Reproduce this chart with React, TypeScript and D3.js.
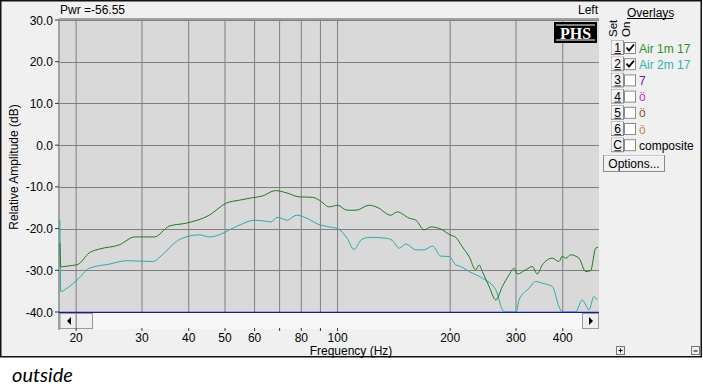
import React from "react";
import * as d3 from "d3";

// series: Air 1m 17 (green)
const freqA = [18.1, 18.2, 18.9, 20.2, 21.7, 23.1, 26.1, 28.7, 32.4, 35.5, 39.4, 45.4, 50.4, 54.6, 59.2, 62.9, 68.2, 72.8, 79.0, 85.6, 89.4, 95.0, 100, 106, 112, 121.5, 127.6, 138.8, 144.3, 155.4, 162, 170.4, 177.6, 190.7, 199.6, 207, 215.7, 224.7, 234.2, 239, 243.9, 254.2, 264.9, 275.8, 287.4, 296.4, 302.4, 318.5, 331.7, 342, 352.7, 375.2, 390.8, 398.9, 407.3, 420, 442, 460.6, 474.9, 489.8, 497];
const dbA = [-23.5, -29.2, -29.0, -28.6, -25.8, -24.9, -23.9, -22.0, -22.0, -19.4, -18.7, -16.8, -13.9, -13.2, -12.6, -12.2, -10.9, -11.4, -12.4, -12.5, -13.2, -14.8, -14.4, -15.6, -15.6, -14.4, -14.9, -16.8, -16.0, -17.5, -18.0, -20.3, -19.6, -20.3, -21.5, -22.1, -24.4, -26.7, -29.9, -28.7, -30.3, -33.9, -37.1, -33.9, -31.1, -29.5, -30.9, -29.9, -29.1, -30.9, -28.7, -27.1, -27.9, -26.6, -27.1, -26.3, -27.1, -30.3, -30.1, -24.7, -24.5];

// series: Air 2m 17 (teal)
const freqB = [18.1, 18.2, 18.9, 20.2, 21.7, 24.6, 27.3, 32.0, 34.0, 36.6, 38.5, 42.7, 45.4, 48.3, 51.4, 54.6, 59.9, 63.7, 66.5, 69.0, 73.4, 77.6, 84.0, 88.3, 95.0, 100, 106, 110.6, 115.7, 121.5, 134.7, 140.3, 146.2, 152.2, 162, 170.4, 179.4, 188.8, 198.8, 207, 213.6, 224.7, 243.9, 264.9, 275.8, 280.4, 300, 305.7, 325, 338.6, 352.7, 375.2, 390.8, 398.9, 433, 451, 460.6, 470, 484.8, 493.8];
const dbB = [-18.0, -35.1, -34.3, -32.2, -29.5, -28.5, -27.7, -27.9, -26.3, -23.5, -22.3, -21.5, -22.0, -21.5, -20.3, -19.2, -18.0, -18.2, -18.4, -17.3, -18.0, -16.8, -17.8, -18.9, -19.6, -20.0, -22.3, -25.0, -22.7, -22.1, -22.3, -22.9, -24.7, -23.7, -25.1, -25.1, -24.2, -26.6, -26.7, -28.7, -29.1, -30.3, -31.9, -34.7, -39.4, -40, -40, -37.1, -34.3, -32.7, -33.1, -33.9, -38.7, -40, -40, -37.1, -38.3, -39.5, -36.3, -37.1];

const gridFreqs = [20, 30, 40, 50, 60, 70, 80, 90, 100, 200, 300, 400];
const freqLabels = [20, 30, 40, 50, 60, 80, 100, 200, 300, 400];
const dbTicks = [30, 20, 10, 0, -10, -20, -30, -40];

const setKeys = ["1", "2", "3", "4", "5", "6", "C"];
const overlayNames = ["Air 1m 17", "Air 2m 17", "7", "ö", "ö", "ö", "composite"];
const overlayColors = ["#2f8f2f", "#2fb3b3", "#6a1b9a", "#d030d0", "#8a5a2a", "#e0805a", "#000000"];
const overlayOn = [true, true, false, false, false, false, false];

const GREEN = "#1f7a1f";
const TEAL = "#2aabab";
const FONT = "'Liberation Sans', Arial, sans-serif";

export default function App() {
  const W = 703;
  const H = 392;
  const pl = 59, pr = 599, pt = 19, pb = 312;

  const x = d3.scaleLog().domain([18, 500]).range([pl, pr]);
  const y = d3.scaleLinear().domain([-40, 30]).range([pb, 20]);

  const line = d3
    .line<[number, number]>()
    .x((d) => x(d[0]))
    .y((d) => y(Math.max(-40, d[1])))
    .curve(d3.curveMonotoneX);

  const ptsA = freqA.map((f, i) => [f, dbA[i]] as [number, number]);
  const ptsB = freqB.map((f, i) => [f, dbB[i]] as [number, number]);

  const rowY = (i: number) => 48 + i * 16.2;

  return (
    <svg width={W} height={H} style={{ position: "absolute", left: 0, top: 0, background: "#fff" }} fontFamily={FONT}>
      <defs>
        <clipPath id="plotclip">
          <rect x={pl} y={pt} width={pr - pl} height={pb - pt + 1} />
        </clipPath>
      </defs>
      {/* window frame */}
      <rect x={0.75} y={0.75} width={700.5} height={356} fill="#f0f0f0" stroke="#111" strokeWidth={1.5} />

      {/* plot background */}
      <rect x={pl} y={pt} width={pr - pl} height={pb - pt} fill="#d9d9d9" />
      {gridFreqs.map((f) => (
        <line key={"gv" + f} x1={x(f)} x2={x(f)} y1={pt} y2={pb} stroke="#7f7f7f" strokeWidth={1} />
      ))}
      {dbTicks.map((d) => (
        <line key={"gh" + d} x1={pl} x2={pr} y1={Math.round(y(d)) + 0.5} y2={Math.round(y(d)) + 0.5} stroke="#7f7f7f" strokeWidth={1} />
      ))}
      <line x1={pl} x2={pr} y1={pt} y2={pt} stroke="#a0a0a0" strokeWidth={2} />
      <line x1={pl} x2={pl} y1={pt} y2={330} stroke="#a0a0a0" strokeWidth={2} />

      {/* curves */}
      <g clipPath="url(#plotclip)">
        <path d={line(ptsB) || ""} fill="none" stroke={TEAL} strokeWidth={1} />
        <path d={line(ptsA) || ""} fill="none" stroke={GREEN} strokeWidth={1} />
      </g>
      <line x1={pl} x2={pr} y1={pb + 0.5} y2={pb + 0.5} stroke="#1a1a9a" strokeWidth={1.5} />

      {/* scrollbar */}
      <rect x={pl + 1} y={pb + 1} width={pr - pl - 1} height={16} fill="#f7f7f7" />
      <rect x={pl + 1} y={pb + 1.5} width={16} height={15} fill="#efefef" stroke="#9a9a9a" />
      <path d={`M${pl + 8},${pb + 9} l4,-4 v8 z`} fill="#000" />
      <rect x={pl + 17.5} y={pb + 1.5} width={16} height={15} fill="#efefef" stroke="#9a9a9a" />
      <rect x={pr - 16.5} y={pb + 1.5} width={16} height={15} fill="#efefef" stroke="#9a9a9a" />
      <path d={`M${pr - 10},${pb + 5} l4,4 l-4,4 z`} fill="#000" />

      {/* x ticks */}
      {gridFreqs.map((f) => (
        <line key={"xt" + f} x1={x(f)} x2={x(f)} y1={328} y2={331} stroke="#333" />
      ))}
      {freqLabels.map((f) => (
        <text key={"xl" + f} x={x(f)} y={342} fontSize={12} textAnchor="middle" fill="#000">{f}</text>
      ))}
      <text x={351} y={354.5} fontSize={12} textAnchor="middle">Frequency (Hz)</text>

      {/* y ticks */}
      {dbTicks.map((d) => (
        <g key={"yt" + d}>
          <line x1={pl - 4} x2={pl} y1={y(d)} y2={y(d)} stroke="#333" />
          <text x={53} y={y(d) + 4.5} fontSize={12} textAnchor="end">{d.toFixed(1)}</text>
        </g>
      ))}
      <text transform="translate(18,167) rotate(-90)" fontSize={12} textAnchor="middle">Relative Amplitude (dB)</text>

      {/* header */}
      <text x={60} y={14} fontSize={12}>Pwr =-56.55</text>
      <text x={598} y={14} fontSize={12} textAnchor="end">Left</text>
      <rect x={554} y={22} width={43} height={21} fill="#000" />
      <line x1={556} x2={595} y1={25} y2={25} stroke="#fff" strokeWidth={1} />
      <line x1={556} x2={595} y1={40} y2={40} stroke="#fff" strokeWidth={1} />
      <text x={575.5} y={38.5} fontSize={16} fontWeight="bold" fontFamily="'Liberation Serif', 'DejaVu Serif', serif" textAnchor="middle" fill="#fff">PHS</text>

      {/* overlays panel */}
      <text x={627} y={16.5} fontSize={12}>Overlays</text>
      <line x1={627} x2={673} y1={18.5} y2={18.5} stroke="#000" />
      <text transform="translate(617,37) rotate(-90)" fontSize={11.5}>Set</text>
      <text transform="translate(630,37) rotate(-90)" fontSize={11.5}>On</text>
      {setKeys.map((k, i) => (
        <g key={"row" + k}>
          <rect x={611.5} y={rowY(i) - 7} width={12} height={13.5} fill="#f0f0f0" stroke="#8a8a8a" />
          <line x1={612} x2={623} y1={rowY(i) - 6.5} y2={rowY(i) - 6.5} stroke="#fff" />
          <line x1={612} x2={612} y1={rowY(i) - 6.5} y2={rowY(i) + 6} stroke="#fff" />
          <text x={617.5} y={rowY(i) + 4} fontSize={12} textAnchor="middle">{k}</text>
          <line x1={614.5} x2={621} y1={rowY(i) + 5.5} y2={rowY(i) + 5.5} stroke="#000" strokeWidth={0.8} />
          <rect x={624.5} y={rowY(i) - 5.5} width={11} height={11} fill="#fff" stroke="#8a8a8a" />
          {overlayOn[i] && (
            <path d={`M${626.5},${rowY(i) - 0.5} l2.5,3 l5,-6`} fill="none" stroke="#000" strokeWidth={1.8} />
          )}
          <text x={639} y={rowY(i) + 4.5} fontSize={12} fill={overlayColors[i]}>{overlayNames[i]}</text>
        </g>
      ))}
      <rect x={603.5} y={155.5} width={61} height={16} fill="#f0f0f0" stroke="#8a8a8a" />
      <line x1={604} x2={664} y1={156} y2={156} stroke="#fff" />
      <text x={634} y={167.5} fontSize={12} textAnchor="middle">Options...</text>

      {/* zoom buttons */}
      <rect x={616.5} y={346.5} width={8} height={8} fill="#f0f0f0" stroke="#777" />
      <line x1={618.5} x2={622.5} y1={350.5} y2={350.5} stroke="#000" />
      <line x1={620.5} x2={620.5} y1={348.5} y2={352.5} stroke="#000" />
      <rect x={691.5} y={346.5} width={8} height={8} fill="#f0f0f0" stroke="#777" />
      <line x1={693.5} x2={697.5} y1={351} y2={351} stroke="#000" />

      <text x={12} y={382} fontSize={20} fontStyle="italic" fontFamily="Lato, 'Open Sans', sans-serif">outside</text>
    </svg>
  );
}
